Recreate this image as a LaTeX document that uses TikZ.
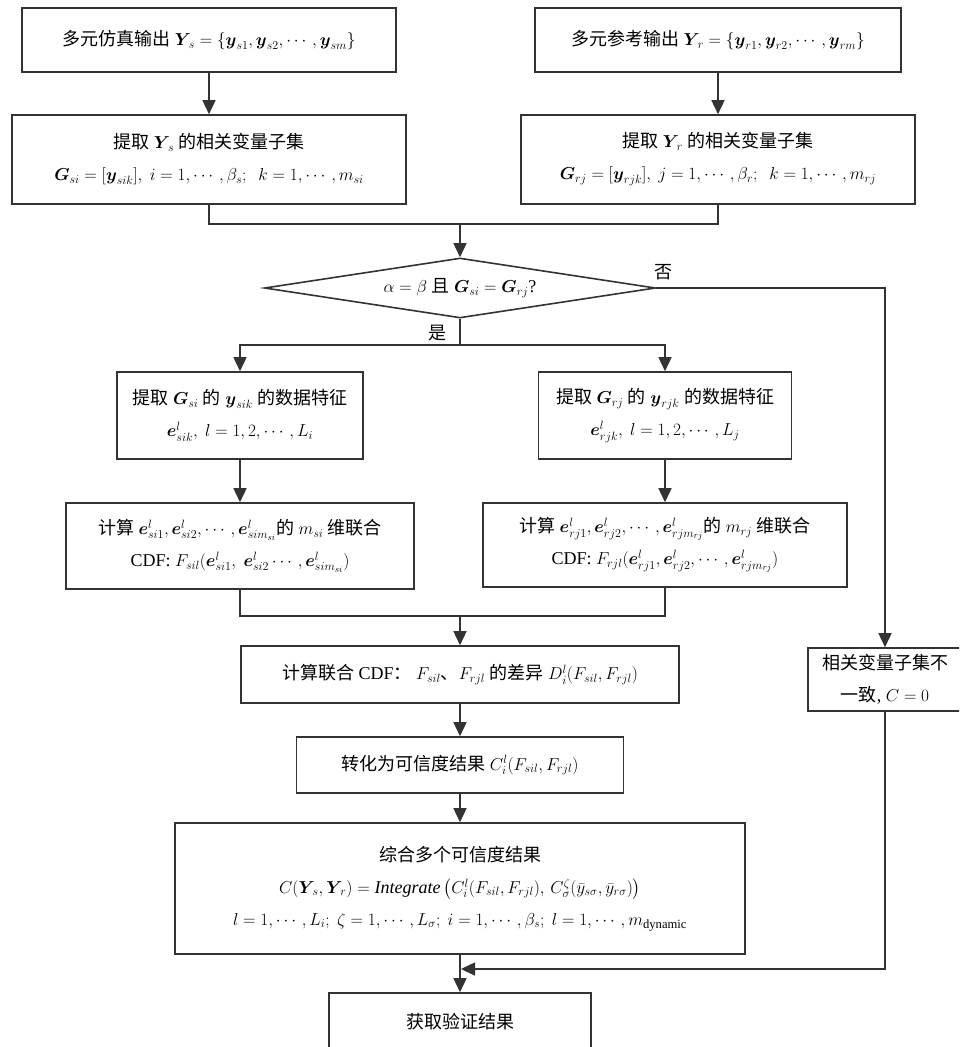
\documentclass[tikz,border=0pt]{standalone}
\usepackage{amsmath}
\usepackage{fontspec}
\setmainfont{Liberation Serif}
\newfontfamily\cjk{Noto Sans CJK SC}
\newcommand{\zh}[1]{{\cjk #1}}
\newcommand{\bv}[1]{\boldsymbol{#1}}
\usetikzlibrary{arrows.meta,shapes.geometric}
\definecolor{linec}{HTML}{333333}
\begin{document}
\begin{tikzpicture}[x=1pt,y=-1pt,
  txt/.style={font=\fontsize{18}{32}\selectfont, text=black},
  box/.style={txt, draw=linec, line width=1.6pt, align=center, inner sep=0pt},
  line/.style={draw=linec, line width=1.6pt},
  arr/.style={line, -{Triangle[length=14pt,width=13pt]}}]
\useasboundingbox (0,0) rectangle (959,1047);
\clip (0,0) rectangle (959,1047);

\node[box, minimum width=374pt, minimum height=64pt] (A) at (209,40)
  {\zh{多元仿真输出} $\bv{Y}_{\!s}=\{\bv{y}_{s1},\bv{y}_{s2},\cdots,\bv{y}_{sm}\}$};
\node[box, minimum width=366pt, minimum height=64pt] (B) at (718,40)
  {\zh{多元参考输出} $\bv{Y}_{\!r}=\{\bv{y}_{r1},\bv{y}_{r2},\cdots,\bv{y}_{rm}\}$};

\node[box, minimum width=394pt, minimum height=89pt] (C) at (209,159.5)
  {\zh{提取} $\bv{Y}_{\!s}$ \zh{的相关变量子集}\\
   $\bv{G}_{si}=[\bv{y}_{sik}],\ i=1,\cdots,\beta_s;\ \ k=1,\cdots,m_{si}$};
\node[box, minimum width=394pt, minimum height=89pt] (D) at (718,159.5)
  {\zh{提取} $\bv{Y}_{\!r}$ \zh{的相关变量子集}\\
   $\bv{G}_{rj}=[\bv{y}_{rjk}],\ j=1,\cdots,\beta_r;\ \ k=1,\cdots,m_{rj}$};

\node[box, diamond, aspect=6.5, minimum width=391pt, minimum height=60pt] (dia) at (460,288)
  {$\alpha=\beta$ \zh{且} $\bv{G}_{si}=\bv{G}_{rj}$?};
\node[txt, inner sep=0pt] (yes) at (437,333) {\zh{是}};
\node[txt, inner sep=0pt] (no) at (663,272) {\zh{否}};

\node[box, minimum width=246pt, minimum height=87pt] (E) at (240,415.5)
  {\zh{提取} $\bv{G}_{si}$ \zh{的} $\bv{y}_{sik}$ \zh{的数据特征}\\
   $\bv{e}^{l}_{sik},\ l=1,2,\cdots,L_i$};
\node[box, minimum width=253pt, minimum height=87pt] (F) at (665,415.5)
  {\zh{提取} $\bv{G}_{rj}$ \zh{的} $\bv{y}_{rjk}$ \zh{的数据特征}\\
   $\bv{e}^{l}_{rjk},\ l=1,2,\cdots,L_j$};

\node[box, minimum width=348pt, minimum height=86pt] (G) at (240,546)
  {\zh{计算} $\bv{e}^l_{si1},\bv{e}^l_{si2},\cdots,\bv{e}^l_{sim_{si}}$\zh{的} $m_{si}$ \zh{维联合}\\
   CDF: $F_{sil}(\bv{e}^l_{si1},\ \bv{e}^l_{si2}\cdots,\bv{e}^l_{sim_{si}})$};
\node[box, minimum width=364pt, minimum height=84pt] (H) at (665,545)
  {\zh{计算} $\bv{e}^l_{rj1},\bv{e}^l_{rj2},\cdots,\bv{e}^l_{rjm_{rj}}$\zh{的} $m_{rj}$ \zh{维联合}\\
   CDF: $F_{rjl}(\bv{e}^l_{rj1},\bv{e}^l_{rj2},\cdots,\bv{e}^l_{rjm_{rj}})$};

\node[box, minimum width=438pt, minimum height=57pt] (I) at (460,674.5)
  {\zh{计算联合} CDF\zh{：} $F_{sil}$\zh{、}$F_{rjl}$ \zh{的差异} $D^l_i(F_{sil},F_{rjl})$};
\node[box, minimum width=327pt, minimum height=56pt] (J) at (460,765)
  {\zh{转化为可信度结果} $C^l_i(F_{sil},F_{rjl})$};
\node[box, minimum width=570pt, minimum height=131pt] (K) at (460,888.5)
  {\zh{综合多个可信度结果}\\
   $C(\bv{Y}_{\!s},\bv{Y}_{\!r})=\mathit{Integrate}\left(C^{l}_{i}(F_{sil},F_{rjl}),\,C^{\zeta}_{\sigma}(\bar{y}_{s\sigma},\bar{y}_{r\sigma})\right)$\\
   $l=1,\cdots,L_i;\ \zeta=1,\cdots,L_\sigma;\ i=1,\cdots,\beta_s;\ l=1,\cdots,m_{\mathrm{dynamic}}$};
\node[box, minimum width=262pt, minimum height=58pt] (L) at (460,1022)
  {\zh{获取验证结果}};
\node[box, minimum width=154pt, minimum height=63pt] (M) at (885,679.5)
  {\zh{相关变量子集不}\\\zh{一致}, $C=0$};

\coordinate (c1) at (460,224);
\coordinate (c2) at (460,345);
\coordinate (c3) at (460,616);
\coordinate (c4) at (461,969);

\draw[line] (C.south) |- (c1) -| (D.south);
\draw[arr] (A.south) -- (C.north);
\draw[arr] (B.south) -- (D.north);
\draw[arr] (c1) -- (dia.north);
\draw[line] (dia.south) -- (c2);
\draw[arr] (c2) -| (E.north);
\draw[arr] (c2) -| (F.north);
\draw[arr] (dia.east) -| (M.north);
\draw[arr] (E.south) -- (G.north);
\draw[arr] (F.south) -- (H.north);
\draw[line] (G.south) |- (c3) -| (H.south);
\draw[arr] (c3) -- (I.north);
\draw[arr] (I.south) -- (J.north);
\draw[arr] (J.south) -- (K.north);
\draw[arr] (K.south) -- (L.north);
\draw[arr] (M.south) |- (c4);
\end{tikzpicture}
\end{document}
